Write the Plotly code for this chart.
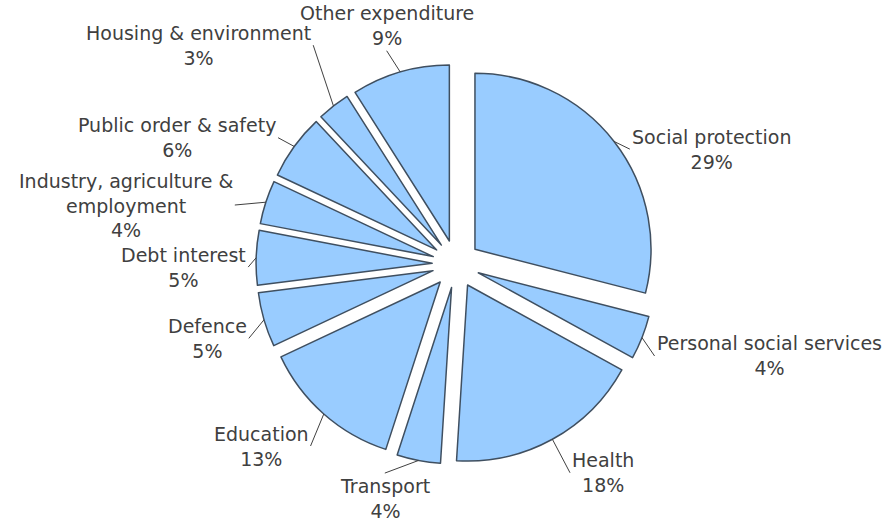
import numpy as np
import plotly.graph_objects as go

# ---- data ----
categories = [
    "Social protection", "Personal social services", "Health", "Transport",
    "Education", "Defence", "Debt interest",
    "Industry, agriculture &<br>employment", "Public order & safety",
    "Housing & environment", "Other expenditure",
]
values = [29, 4, 18, 4, 13, 5, 5, 4, 6, 3, 9]

# ---- layout / style ----
W, H = 885, 526
PULL = 0.136
DOM_X = [0.2893, 0.7413]
DOM_Y = [0.1179, 0.8783]
FILL = "#99CCFF"
EDGE = "#3F4F60"
TXT = "#404040"
FONT = "DejaVu Sans, Verdana, sans-serif"
FSIZE = 19
LEAD = 20  # leader line length (px)
# per-label pixel nudges for label boxes (layout only)
nudge = {0: (0, 20), 1: (-6, 11), 2: (8, 16), 3: (-30, -7), 4: (0, 17),
         5: (4, 13), 6: (12, 10), 7: (-12, 9), 8: (0, 3), 9: (-8, -45),
         10: (-8, -2)}

fig = go.Figure(go.Pie(
    labels=categories, values=values, sort=False, direction="clockwise",
    rotation=0, pull=PULL, textinfo="none", hoverinfo="label+percent",
    marker=dict(colors=[FILL] * len(values), line=dict(color=EDGE, width=1.5)),
    domain=dict(x=DOM_X, y=DOM_Y), showlegend=False,
))

# geometry as plotly computes it
rx = W * (DOM_X[1] - DOM_X[0]) / 2
ry = H * (DOM_Y[1] - DOM_Y[0]) / 2
r = min(rx, ry) / (1 + PULL)
cx = W * (DOM_X[0] + DOM_X[1]) / 2
cy = H * (1 - (DOM_Y[0] + DOM_Y[1]) / 2)

vals = np.array(values, dtype=float)
tot = vals.sum()
cum = np.cumsum(vals)
mid = (cum - vals / 2) / tot * 2 * np.pi
R = r * (1 + PULL)

annotations = []
for i, (lab, v, th) in enumerate(zip(categories, vals, mid)):
    s, c = np.sin(th), np.cos(th)
    px, py = cx + R * s, cy - R * c
    nx, ny = nudge.get(i, (0, 0))
    ax = LEAD * s + nx
    ay = -LEAD * c + ny
    if s > 0.35:
        xa, ya = "left", "middle"
    elif s < -0.35:
        xa, ya = "right", "middle"
    else:
        xa = "center"
        ya = "bottom" if c > 0 else "top"
    pct = round(v / tot * 100)
    annotations.append(dict(
        x=px / W, y=1 - py / H, xref="paper", yref="paper",
        text=f"{lab}<br>{pct}%", showarrow=True, arrowhead=0, arrowwidth=1,
        arrowcolor=TXT, ax=ax, ay=ay, xanchor=xa, yanchor=ya, align="center",
        standoff=0, font=dict(family=FONT, size=FSIZE, color=TXT),
    ))

fig.update_layout(
    width=W, height=H, autosize=False,
    margin=dict(l=0, r=0, t=0, b=0),
    paper_bgcolor="white", plot_bgcolor="white",
    annotations=annotations,
)

fig.write_html("out.html", config={"displayModeBar": False},
               post_script="document.body.style.margin='0';")
